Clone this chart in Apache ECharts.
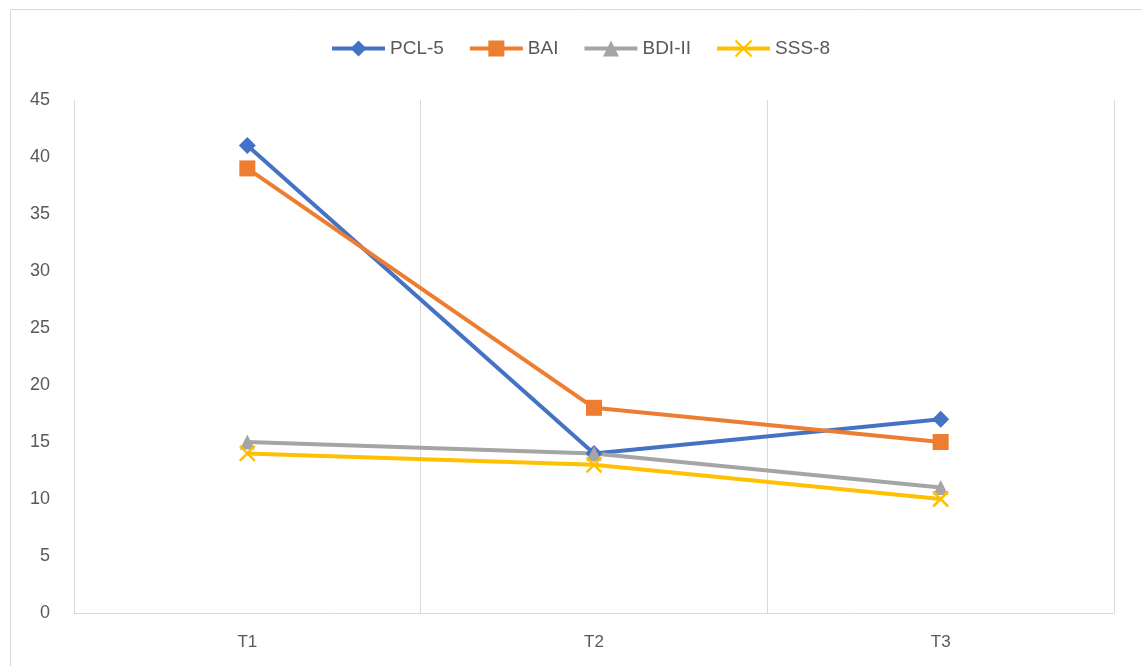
<!DOCTYPE html>
<html>
<head>
<meta charset="utf-8">
<title>Scores over time</title>
<script src="https://cdn.jsdelivr.net/npm/echarts@6/dist/echarts.min.js"></script>
<style>
  html, body { margin: 0; padding: 0; background: #fff; }
  #chart { width: 1142px; height: 666px; }
</style>
</head>
<body>
<div id="chart"></div>
<script>
const categories = ['T1', 'T2', 'T3']
const pcl5 = [41, 14, 17]
const bai = [39, 18, 15]
const bdi2 = [15, 14, 11]
const sss8 = [14, 13, 10]

const chart = echarts.init(document.getElementById('chart'))

const font = 'Liberation Sans'
const textColor = '#595959'
const gridColor = '#d9d9d9'

const makeSeries = (name, data, color, symbol, size, extra) => Object.assign({
  name,
  type: 'line',
  data,
  symbol,
  symbolSize: size,
  lineStyle: { color, width: 4 },
  itemStyle: { color },
  emphasis: { disabled: true }
}, extra || {})

chart.setOption({
  animation: false,
  textStyle: { fontFamily: font },
  graphic: [
    {
      type: 'rect',
      shape: { x: 10.5, y: 9.5, width: 1200, height: 800 },
      style: { fill: 'none', stroke: gridColor, lineWidth: 1 },
      silent: true
    }
  ],
  legend: {
    top: 33,
    left: 325,
    itemWidth: 53,
    itemHeight: 20,
    itemGap: 24,
    lineStyle: { width: 4 },
    textStyle: { fontSize: 19, color: textColor, fontFamily: font },
    data: ['PCL-5', 'BAI', 'BDI-II', 'SSS-8']
  },
  grid: {
    left: 74,
    right: 28,
    top: 100,
    bottom: 53,
    containLabel: false
  },
  xAxis: {
    type: 'category',
    data: categories,
    boundaryGap: true,
    axisLine: { show: true, lineStyle: { color: gridColor, width: 1 } },
    axisTick: { show: false },
    axisLabel: { color: textColor, fontSize: 17, margin: 21 },
    splitLine: { show: true, lineStyle: { color: gridColor, width: 1 } }
  },
  yAxis: {
    type: 'value',
    min: 0,
    max: 45,
    interval: 5,
    axisLine: { show: false },
    axisTick: { show: false },
    axisLabel: { color: textColor, fontSize: 18, margin: 24 },
    splitLine: { show: false }
  },
  series: [
    makeSeries('PCL-5', pcl5, '#4472C4', 'diamond', 17),
    makeSeries('BAI', bai, '#ED7D31', 'rect', 16),
    makeSeries('BDI-II', bdi2, '#A5A5A5', 'triangle', 15),
    makeSeries('SSS-8', sss8, '#FFC000', 'path://M0,0L10,10M10,0L0,10', 15, {
      itemStyle: { color: 'none', borderColor: '#FFC000', borderWidth: 2.5 }
    })
  ]
})
</script>
</body>
</html>
